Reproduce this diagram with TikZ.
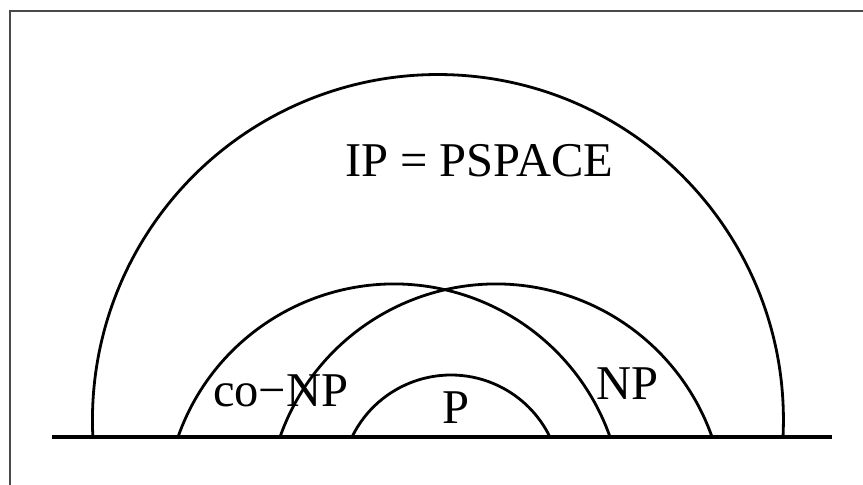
\documentclass[tikz,border=0pt]{standalone}
\usepackage{fontspec}
\setmainfont{Liberation Serif}
\definecolor{framegray}{HTML}{4A4A4A}
\begin{document}
\begin{tikzpicture}[x=1pt,y=1pt,
  arcline/.style={line width=2.8pt,black},
  baseline/.style={line width=3.2pt,black},
  framel/.style={line width=2.2pt,framegray},
  lbl/.style={anchor=base west,inner sep=0pt,font=\fontsize{48.5}{48.5}\selectfont}]
\useasboundingbox (0,0) rectangle (863,485);
% frame
\draw[framel] (10,-5) -- (10,474) -- (868,474);
% baseline
\coordinate (bl) at (52,48);
\coordinate (br) at (832,48);
\draw[baseline] (bl) -- (br);
% outer arc (IP = PSPACE)
\draw[arcline] (783,48) arc[start angle=-2.82,end angle=182.82,radius=345.5pt];
% co-NP arc
\draw[arcline] (178,48) arc[start angle=160.62,end angle=19.38,radius=229pt];
% NP arc
\draw[arcline] (280,48) arc[start angle=160.62,end angle=19.38,radius=229pt];
% P arc
\draw[arcline] (352,48) arc[start angle=154.12,end angle=25.88,radius=110pt];
% labels
\node[lbl] (ip) at (345,308) {IP = PSPACE};
\node[lbl] (conp) at (213,78) {co−NP};
\node[lbl] (np) at (596,85) {NP};
\node[lbl] (p) at (442,61) {P};
\end{tikzpicture}
\end{document}
